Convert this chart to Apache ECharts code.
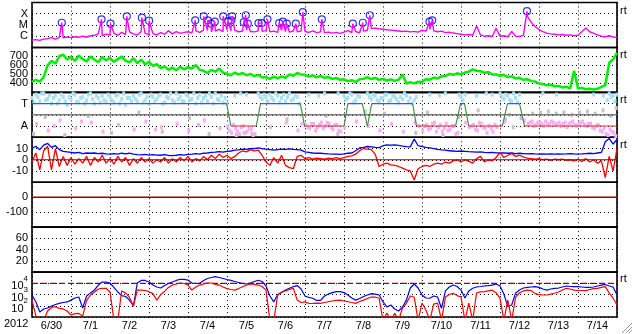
<!DOCTYPE html>
<html><head><meta charset="utf-8">
<script src="https://cdn.jsdelivr.net/npm/echarts@6/dist/echarts.min.js"></script>
<style>html,body{margin:0;padding:0;background:#fff;}#c{width:633px;height:334px;}</style>
</head><body><div id="c"></div>
<script>
// ---- axis / tick data ----
const dayLabels = ['6/30','7/1','7/2','7/3','7/4','7/5','7/6','7/7','7/8','7/9','7/10','7/11','7/12','7/13','7/14'];
const yearLabel = '2012';
const STEP = 0.1; // days between samples, day 0 = 2012-06-30 00:00 UT

// ---- panel 1: GOES X-ray flux, in µW/m² (1 = C1, 10 = M1, 100 = X1) ----
const xrayBase = [
0.45,0.5,0.42,0.55,0.6,0.75,0.55,0.8,0.7,0.85,
0.75,0.9,0.8,1.0,0.85,1.1,1.2,1.6,1.1,1.5,
1.3,1.8,1.2,2.2,1.4,2.4,1.6,1.3,2.6,1.8,
1.4,1.7,1.3,2.1,1.5,3.0,1.6,2.6,1.8,2.2,
2.5,2.0,3.0,2.2,3.5,3.2,2.4,2.9,4.0,2.6,
3.8,2.9,3.3,2.5,2.9,3.4,2.6,2.4,3.0,2.7,
3.1,2.4,2.8,2.2,3.3,2.6,2.3,2.9,2.5,2.8,
2.6,2.2,3.0,2.1,2.4,2.0,2.3,1.9,2.2,1.8,
2.3,3.2,2.1,2.6,2.0,2.8,3.4,4.8,5.2,4.6,
4.2,3.8,3.5,3.2,2.9,2.6,2.8,2.4,2.7,2.3,
3.4,2.8,4.0,3.0,2.5,2.8,2.1,2.3,1.9,1.7,
1.5,1.3,1.4,1.2,8.0,1.3,1.0,1.1,0.95,5.0,
1.0,1.1,0.9,2.6,1.0,0.95,1.2,60,17,7.3,
3.9,2.6,1.9,1.6,1.5,1.3,1.4,1.2,1.3,1.1,
1.2,2.5,5.5,2.5,1.8,1.3,1.0,0.9,1.1,0.85,0.8];
const flareTimes = [0.764,1.782,2.013,2.431,2.818,3.003,4.185,4.405,4.508,4.595,4.687,4.903,5.031,5.115,5.133,5.431,5.482,5.533,5.808,5.892,6.038,6.338,6.431,6.533,6.764,6.944,7.431,8.226,8.482,8.662,10.192,10.262,12.692];
const flarePeaks = [15.8,31.6,12.9,59,45,24,25.7,59,25.7,12.9,19.5,59,22.2,25.7,59,18,73,12.9,14.6,14.6,31.6,14.6,19.5,12.9,12.9,137,31.6,12.9,15.8,73,19.5,25.7,169];

// ---- panel 2: solar wind speed, km/s ----
const windSpeed = [
415,440,420,470,600,650,620,705,720,665,
695,650,710,670,645,700,665,635,695,655,
685,640,670,700,650,635,680,625,665,610,
640,595,615,570,590,550,575,545,585,555,
580,565,605,550,540,515,550,530,565,520,
505,490,520,500,515,490,505,480,495,465,
470,450,475,455,478,462,500,485,515,500,
495,475,490,468,482,462,470,450,460,440,
445,425,435,415,445,450,470,448,460,440,
450,432,445,428,440,500,398,412,400,418,
415,445,440,465,455,478,480,505,495,512,
500,520,530,555,540,535,518,525,500,500,
485,495,470,478,455,462,440,447,425,420,
400,392,380,385,368,372,355,362,345,540,
342,348,335,340,332,340,360,380,630,665,740];

// ---- panel 3: IMF sector (1 = A, 3 = T) and angle dots ----
const sectorTimes  = [0,4.99,5.1,5.75,5.86,6.88,6.99,8.0,8.1,8.47,8.6,8.71,9.76,9.86,10.86,10.99,11.09,11.2,12.06,12.19,12.5,12.63,15];
const sectorLevels = [3,3,1,1,3,3,1,1,3,3,1,3,3,1,1,3,3,1,1,3,3,1,1];
const cyanA = [
3.5,3.8,3.2,3.9,3.4,3.0,3.7,3.3,3.6,2.9,
3.4,3.8,3.1,3.6,3.3,3.9,3.0,3.5,3.7,3.2,
3.6,3.1,3.8,3.4,2.9,3.5,3.7,3.2,3.9,3.3,
3.0,3.6,3.4,3.8,3.1,3.5,3.3,3.9,3.6,3.2,
3.7,3.4,3.0,3.8,3.5,3.2,3.6,3.9,3.3,3.1,
3.0,null,3.7,null,null,3.8,null,null,3.9,3.4,
3.6,3.8,3.3,3.7,3.5,3.2,3.9,3.4,3.6,null,
null,3.8,null,null,null,3.9,null,null,null,null,
3.7,3.5,3.8,3.3,3.6,null,3.9,3.4,3.7,3.2,
3.5,3.8,3.3,3.6,3.1,3.4,3.7,3.5,3.3,null,
null,null,3.8,null,null,null,3.9,null,null,null,
3.6,3.8,null,null,3.7,null,null,null,3.8,null,
3.9,3.4,3.7,3.2,3.5,3.8,null,null,null,null,
null,3.9,null,null,null,null,null,null,null,null,
null,null,null,null,3.8,null,null,null,3.9,3.7,3.8];
const cyanB = [
3.1,3.6,3.9,3.3,3.7,3.5,3.0,3.8,3.2,3.6,
3.9,3.2,3.5,3.0,3.8,3.4,3.7,3.1,3.3,3.8,
3.3,3.7,3.0,3.9,3.5,3.2,3.4,3.8,3.1,3.6,
3.8,3.2,3.7,3.0,3.6,3.9,3.1,3.4,3.2,3.8,
3.3,3.9,3.5,3.1,3.7,3.9,3.0,3.4,3.7,3.5,
null,null,null,3.9,null,null,null,null,3.6,3.8,
3.2,3.5,3.9,3.1,3.8,3.6,3.3,3.7,3.0,null,
null,null,null,3.7,null,null,null,null,3.9,null,
3.4,3.9,3.1,3.7,null,null,3.6,3.8,3.3,3.5,
3.8,3.2,3.7,3.4,3.6,3.9,3.2,3.0,3.6,null,
null,null,null,null,3.7,null,null,null,null,3.8,
3.3,null,null,null,null,null,3.9,null,null,null,
3.6,3.8,3.3,3.9,3.1,null,null,null,null,null,
null,null,null,null,3.8,null,null,null,null,null,
null,null,null,null,null,null,3.7,3.3,3.6,3.2,3.5];
const pinkA = [
null,1.2,null,null,0.6,null,null,1.5,null,null,
null,0.8,null,null,null,1.3,null,null,0.5,null,
null,null,1.1,null,null,null,0.7,null,null,1.4,
null,null,null,0.9,null,null,null,1.2,null,null,
0.6,null,null,null,1.5,null,null,null,0.8,null,
1.0,0.4,0.8,0.3,1.0,0.5,0.7,0.3,null,null,
null,0.9,null,null,null,1.3,null,null,0.6,1.2,
1.1,0.8,1.2,0.9,1.3,1.0,1.2,0.7,1.1,0.5,
0.9,null,null,1.4,null,null,1.0,null,null,0.6,
null,null,1.2,null,null,0.5,null,null,1.3,1.0,
0.6,1.1,0.8,1.3,0.9,0.5,1.2,0.7,1.0,0.4,
null,1.3,0.9,1.1,0.6,1.2,0.8,1.0,0.5,0.9,
null,1.4,null,null,null,null,1.5,1.2,1.4,1.1,
1.3,1.0,1.2,1.4,1.1,1.3,1.2,0.9,1.3,1.1,
1.2,1.4,1.0,1.2,0.8,1.1,0.5,0.3,0.7,0.4,0.2];
const pinkB = [
null,null,null,null,null,1.0,null,null,null,null,
null,null,1.4,null,null,null,null,null,null,null,
null,null,null,null,null,null,null,null,null,null,
null,0.7,null,null,null,null,null,null,null,null,
null,null,1.1,null,null,null,null,null,null,null,
0.6,1.1,0.5,0.9,0.4,0.8,0.2,null,null,null,
null,null,null,null,null,null,null,null,null,null,
0.9,1.2,0.6,1.1,0.8,1.3,0.9,1.1,0.6,null,
null,null,null,null,null,null,null,null,null,null,
null,null,null,null,null,null,null,null,null,null,
1.0,0.7,1.2,0.5,1.1,0.8,0.6,1.0,0.3,null,
null,null,1.0,0.7,1.3,0.9,0.4,0.8,1.1,null,
null,null,null,null,null,null,null,1.3,1.0,1.3,
1.2,1.4,1.1,1.3,1.2,1.0,1.3,1.2,1.4,1.0,
1.3,1.1,1.2,0.9,1.0,0.6,0.8,0.2,0.5,0.1,0.6];
const grayTimes = [0.04,0.34,0.84,1.44,2.04,2.74,3.34,4.04,4.54,5.24,5.44,5.64,6.54,7.54,7.84,8.54,9.04,9.84,10.14,10.54,10.94,11.44,12.14,12.24,12.34,12.54,12.84,13.04,13.24,13.44,13.64,13.84,14.04,14.24,14.44,14.64,14.84,14.98];
const grayVals  = [0.3,1.8,0.2,1.9,0.4,2.2,0.5,1.7,0.3,0.2,0.4,0.3,1.6,1.9,0.3,2.3,2.1,0.4,2.2,0.2,1.8,2.4,1.6,2.0,0.9,1.7,2.1,2.2,2.3,2.1,2.2,2.0,2.2,2.3,2.1,2.4,1.9,2.6];

// ---- panel 4: IMF Bt (blue) and Bz (red), nT ----
const bt = [
10,12,9,13,14.5,11,12.5,9,7.5,7,
6.5,6,6.5,5.5,6,5.8,6,5.5,5.8,5.2,
5,5.5,5,5.8,5.2,5.8,5,4.5,4.3,4.8,
4.2,4.5,4.2,4,4.5,3.8,3.7,4,4.5,4.2,
4.8,5,5.5,5,5.8,6,6.5,6.8,7.2,6.8,
7.5,7.8,8.5,8.8,9.5,9.2,9.8,10,10.5,10,
9.5,9,8.5,9,9.5,9.2,9.6,9.2,9,8.5,
7,6.5,6,5.8,5.8,5.5,5.2,5,5,4.8,
5.2,5.8,6,8,10.5,11,11.8,11.5,11,10.8,
12.5,13.2,13,13.2,12.8,12.2,11.7,11.5,18.5,12.5,
11.7,11,10.5,10,9.2,8.8,8.5,8,7.8,7.5,
7.8,7.5,7.2,7,6.8,7,6.5,6.3,6.5,6.2,
6,6.2,5.8,6,5.5,5.8,5.5,5.2,5.5,5.2,
5,5.2,5,5.2,5,5.2,5,5.2,5.5,5.2,
5,5.2,5.5,5.8,5.5,6,6.5,16,19,14,18];
const bz = [
-2,6,-9,8,12,-9,10,-6,3,-5,
2,-4,1,-3,3,-5,2,-2,4,-3,
1,-4,3,-2,2,-5,1,-3,2,-2,
1,-3,0,-2,2,-3,1,-2,2,-1,
3,-2,1,-1,3,0,4,1,5,2,
4,1,3,6,8,7,9,8,8.5,4,
-2,-5,2,-3,4,-5,-7,-8,3,4,
1,2,0.5,1.5,1,0.5,1.5,1,2,1,
2,3,3.5,5,8,10,9.5,9,5,-6,
-4,-3,-4.5,-5,-6,-7.5,-9,-10,-18,-8,
-6,-5,-6,-4,-3,-4,-2,-3,-1,0,
-2,0,-1.5,-3,1,3,-2,0,-1,2,
6.5,2,4,5.5,3,4,2.5,1.5,1,0.5,
1,0,0.5,-0.5,0.5,0,0.5,-0.5,0,-1,
0.5,-1.5,1,-2,0,-3,-1,-16,3,-10,10];

// ---- panel 7: energetic electron flux (blue / red), pfu ----
const eBlue = [
900,220,28,52,63,95,130,165,195,220,
320,490,600,63,740,1400,2500,7000,13000,13000,
10700,4300,1700,810,670,320,95,10700,18000,18000,
13000,7000,4700,3800,6300,9600,13000,18000,23000,22000,
19500,10700,9600,10000,18000,27000,33000,39000,33000,27000,
22000,18000,14500,11800,9600,8700,10700,14500,18600,14500,
5800,740,220,1000,1500,2500,3600,5000,6300,3100,
740,550,470,300,300,740,1100,1500,1800,1800,
1500,910,490,320,450,670,910,1200,1100,910,
220,78,117,52,34,78,320,3800,8700,3800,
910,490,470,740,600,60,2100,4700,7000,5200,
2500,490,2100,3600,4700,5200,5800,6300,7000,8700,
5800,1100,83,117,1400,2500,3800,4400,4700,5000,
4300,3100,2500,3100,3600,3800,4700,5800,5200,5000,
5000,4700,4400,4400,4700,5800,7000,7900,5800,4700,910];
const eRed = [
320,12,5,5,34,70,83,59,52,34,
15,20,21,12,300,910,1700,3100,3600,3600,
1700,5,5,2100,1400,550,95,2500,2500,2300,
1800,1200,320,1000,1900,4300,7000,8700,10700,9600,
7000,2500,4700,7000,8700,10700,10700,7900,7000,4700,
3400,2800,2500,3400,5000,7000,8700,7900,7000,5200,
2500,5,5,910,1700,2100,2800,3600,320,195,
220,160,165,175,165,195,230,265,300,320,
265,230,195,165,240,320,450,600,600,470,
5,23,5,21,5,63,165,740,600,5,
175,42,5,140,175,5,600,1000,1300,810,
600,5,175,5,1450,1700,1800,2100,2500,1400,
470,5,320,5,600,1450,2100,2500,2300,1200,
1000,910,910,1100,1300,1700,2500,3600,3100,2500,
2300,2300,2200,2800,3400,3600,4300,5000,1400,470,117];
const electronAlert = 10000;

// ---- helpers ----
function seq(arr, off){ const out=[]; arr.forEach((v,i)=>{ if(v!==null && v!==undefined) out.push([+(i*STEP+(off||0)).toFixed(3), v]); }); return out; }
const FONT = "'Liberation Sans', Arial, sans-serif";
const tops = [2.5, 47.43, 92.36, 137.29, 182.22, 227.15, 272.08];
const H = 44.93;
const dotted = {color:'#000', type:[1,3], width:1};

const grids = tops.map(t => ({left:32, width:585, top:t, height:H, show:true, borderColor:'#000', borderWidth:1.6, backgroundColor:'rgba(0,0,0,0)'}));
const xAxes = tops.map((t,k) => ({type:'value', gridIndex:k, min:0, max:15, interval:1,
  axisLine:{show:false}, axisTick:{show:false}, axisLabel:{show:false},
  splitLine:{show:true, lineStyle:dotted}}));
xAxes.push({type:'category', gridIndex:6, position:'bottom', data:dayLabels, boundaryGap:true,
  axisLine:{show:false}, axisTick:{show:false}, splitLine:{show:false},
  axisLabel:{show:true, interval:0, fontSize:11, color:'#000', margin:3, fontFamily:FONT}});

function yAx(k, o){ return Object.assign({gridIndex:k, axisLine:{show:false}, axisTick:{show:false},
  splitLine:{show:true, lineStyle:dotted},
  axisLabel:Object.assign({fontSize:11, color:'#000', margin:4, fontFamily:FONT}, o.label||{})}, o.ax); }
const lg = v => Math.round(Math.log10(v));
const yAxes = [
  yAx(0,{ax:{type:'log', logBase:10, min:0.1, max:1000}, label:{formatter:v=>({0:'C',1:'M',2:'X'})[lg(v)]||''}}),
  yAx(1,{ax:{type:'value', min:300, max:800, interval:100}, label:{formatter:v=>(v>300&&v<800)?String(v):''}}),
  yAx(2,{ax:{type:'value', min:0, max:4, interval:1}, label:{formatter:v=>v===1?'A':(v===3?'T':'')}}),
  yAx(3,{ax:{type:'value', min:-20, max:20, interval:10}, label:{formatter:v=>Math.abs(v)<=10?String(v):''}}),
  yAx(4,{ax:{type:'value', min:-200, max:100, interval:100}, label:{formatter:v=>(v===0||v===-100)?String(v):''}}),
  yAx(5,{ax:{type:'value', min:0, max:80, interval:20}, label:{formatter:v=>(v>0&&v<80)?String(v):''}}),
  yAx(6,{ax:{type:'log', logBase:10, min:10, max:100000}, label:{
    formatter:v=>{const e=lg(v); return (e>=2&&e<=4)?('{b|10}{s|'+e+'}'):'';},
    rich:{b:{fontSize:11, fontFamily:FONT, color:'#000', verticalAlign:'bottom', padding:[6,0,0,0]},
          s:{fontSize:8, fontFamily:FONT, color:'#000', verticalAlign:'top', padding:[0,0,6,0]}}}})
];

function L(k, data, color, width, extra){ return Object.assign({type:'line', xAxisIndex:k, yAxisIndex:k, data, symbol:'none', silent:true,
  lineStyle:{color, width}, clip:true}, extra||{}); }
function S(k, data, color, size){ return {type:'scatter', xAxisIndex:k, yAxisIndex:k, data, symbol:'rect', symbolSize:size, silent:true,
  itemStyle:{color, opacity:1}}; }

const series = [];
// panel 1
const xrayData = seq(xrayBase).concat(flareTimes.map((t,i)=>[t, flarePeaks[i]])).sort((a,b)=>a[0]-b[0]);
series.push(L(0, xrayData, '#ff00ff', 1.4));
series.push({type:'scatter', xAxisIndex:0, yAxisIndex:0, silent:true, data:flareTimes.map((t,i)=>[t, flarePeaks[i]]),
  symbol:'circle', symbolSize:7, itemStyle:{color:'rgba(0,0,0,0)', borderColor:'#0000ff', borderWidth:1.2}});
// panel 2
series.push(L(1, seq(windSpeed), '#00ee00', 2.5));
// panel 3
series.push(S(2, grayTimes.map((t,i)=>[t, grayVals[i]]), '#c4c4c4', [3,4]));
series.push(S(2, seq(pinkA, 0.02), '#f7aef7', [3,4]));
series.push(S(2, seq(pinkB, 0.07), '#f7aef7', [3,4]));
series.push(S(2, seq(cyanA, 0), '#a4e0f6', [3,4]));
series.push(S(2, seq(cyanB, 0.05), '#a4e0f6', [3,4]));
series.push(L(2, [[0,2],[15,2]], '#7a7a7a', 1.5));
for (let k=0;k<sectorTimes.length-1;k++){
  const a=sectorLevels[k], b=sectorLevels[k+1];
  const color = a===b ? (a===3 ? '#4050ff' : '#e03030') : '#3f8a3f';
  series.push(L(2, [[sectorTimes[k],a],[sectorTimes[k+1],b]], color, 1.1));
}
// panel 4
series.push(L(3, seq(bt), '#0000ff', 1.3));
series.push(L(3, seq(bz), '#ff0000', 1.3));
series.push(L(3, [[0,0],[15,0]], '#a00000', 1.2));
// panel 5
series.push(L(4, [[0,0],[15,0]], '#a00000', 1.5));
// panel 7
series.push(L(6, [[0,electronAlert],[15,electronAlert]], '#a00000', 1.2, {lineStyle:{color:'#a00000', width:1.2, type:[6,3]}}));
series.push(L(6, seq(eBlue), '#0000ff', 1.2));
series.push(L(6, seq(eRed), '#ff0000', 1.2));

const rtY = [12.5, 56, 101, 146, 280.5];
const graphic = rtY.map(y => ({type:'text', left:620, top:y-7, silent:true,
  style:{text:'rt', font:'11px '+FONT, fill:'#000'}}));
graphic.push({type:'text', left:4, top:318, silent:true, style:{text:yearLabel, font:'11px '+FONT, fill:'#000'}});
[[622,333,632,323],[626,333,632,327],[629,333,632,330]].forEach(p=>{
  graphic.push({type:'line', silent:true, shape:{x1:p[0],y1:p[1],x2:p[2],y2:p[3]}, style:{stroke:'#9a9a9a', lineWidth:1}});
  graphic.push({type:'line', silent:true, shape:{x1:p[0]+1,y1:p[1],x2:p[2],y2:p[3]+1}, style:{stroke:'#ffffff', lineWidth:1}});
});

const chart = echarts.init(document.getElementById('c'), null, {renderer:'canvas'});
chart.setOption({animation:false, backgroundColor:'#fff', grid:grids, xAxis:xAxes, yAxis:yAxes, series, graphic});
</script></body></html>
